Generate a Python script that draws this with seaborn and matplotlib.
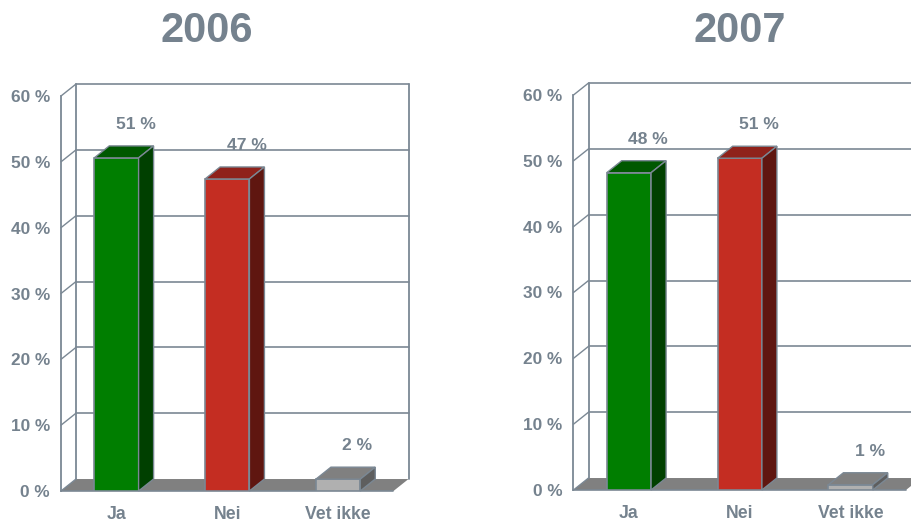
#!/usr/bin/env python
# -*- coding: utf-8 -*-
"""
Ja / Nei / Vet ikke, 2006 and 2007, pseudo 3D bars
"""
import matplotlib
matplotlib.use('Agg')
import matplotlib.pyplot as plt
from matplotlib.patches import Polygon
import seaborn

categories = ['Ja', 'Nei', 'Vet ikke']
years = ['2006', '2007']
# drawn heights
heights_2006 = [50.6, 47.4, 1.8]
heights_2007 = [48.2, 50.4, 0.8]
# printed labels
labels_2006 = ['51 %', '47 %', '2 %']
labels_2007 = ['48 %', '51 %', '1 %']
yticks = [0, 10, 20, 30, 40, 50, 60]
ytick_labels = ['0 %', '10 %', '20 %', '30 %', '40 %', '50 %', '60 %']

TEXT = '#75828e'
LINE = '#7b8894'
FRONT = ['#007e00', '#c42d22', '#b0b0b0']
TOP = ['#005800', '#8f221b', '#808080']
SIDE = ['#004000', '#5f1610', '#5e5e5e']
FLOOR = '#808080'

W, H = 912, 523
DX, DY = 0.1355, 1.82  # depth of the 3D effect in data units


def panel(fig, left_px, bottom_px, title_x, title, heights, labels):
    ax = fig.add_axes([left_px / W, (H - bottom_px) / H, 332.5 / W, 395 / H])
    seaborn.barplot(x=categories, y=heights, hue=categories, palette=FRONT,
                    saturation=1, width=0.4, legend=False, ax=ax, zorder=3,
                    edgecolor=LINE, linewidth=1.2)
    bars = list(ax.patches)
    ax.set_xlim(-0.5, 2.5)
    ax.set_ylim(0, 60)
    ax.set_xlabel('')
    ax.set_ylabel('')
    ax.set_facecolor('none')

    for s in ['top', 'right', 'bottom']:
        ax.spines[s].set_visible(False)
    ax.spines['left'].set_color(LINE)
    ax.spines['left'].set_linewidth(1.3)

    ax.set_yticks(yticks)
    ax.set_yticklabels(ytick_labels)
    ax.set_xticks([-0.5, 0.5, 1.5, 2.5], minor=True)
    ax.set_xticks(range(len(categories)))
    ax.set_xticklabels(categories)
    ax.tick_params(axis='y', length=2, width=1.2, color=LINE, labelcolor=TEXT,
                   labelsize=12.4, pad=6)
    ax.tick_params(axis='x', which='major', length=0, labelcolor=TEXT,
                   labelsize=12.7, pad=11)
    ax.tick_params(axis='x', which='minor', length=4, width=1, color=LINE)
    for t in ax.get_xticklabels() + ax.get_yticklabels():
        t.set_fontweight('bold')

    x0, x1 = -0.5, 2.5
    # floor
    ax.add_patch(Polygon([(x0, 0), (x1, 0), (x1 + DX, DY), (x0 + DX, DY)],
                         fc=FLOOR, ec='none', zorder=1, clip_on=False))
    ax.plot([x0, x1], [0, 0], color=LINE, lw=1.2, zorder=2, clip_on=False)
    # back wall with its grid, and the slanted links to the front axis
    for y in yticks:
        if y > 0:
            ax.plot([x0 + DX, x1 + DX], [y + DY, y + DY], color=LINE, lw=1.2,
                    zorder=2, clip_on=False)
        ax.plot([x0, x0 + DX], [y, y + DY], color=LINE, lw=1.0, zorder=2,
                clip_on=False)
    for x in [x0 + DX, x1 + DX]:
        ax.plot([x, x], [DY, 60 + DY], color=LINE, lw=1.3, zorder=2,
                clip_on=False)

    # top and side face of every bar, label above it
    for i, bar in enumerate(bars):
        a = bar.get_x()
        b = a + bar.get_width()
        h = bar.get_height()
        ax.add_patch(Polygon([(a, h), (b, h), (b + DX, h + DY), (a + DX, h + DY)],
                             fc=TOP[i], ec=LINE, lw=1.0, zorder=3, clip_on=False))
        ax.add_patch(Polygon([(b, 0), (b + DX, DY), (b + DX, h + DY), (b, h)],
                             fc=SIDE[i], ec=LINE, lw=1.0, zorder=3, clip_on=False))
        ax.annotate(labels[i], xy=((a + b) / 2, h), xytext=(14, 24),
                    textcoords='offset points', ha='center', va='center',
                    color=TEXT, fontsize=12.6, fontweight='bold', zorder=5)

    fig.text(title_x / W, (H - 31) / H, title, ha='center', va='center',
             color=TEXT, fontsize=30, fontweight='bold')


seaborn.set_theme(style='white')
plt.rcParams['font.family'] = ['Liberation Sans', 'DejaVu Sans']

fig = plt.figure(figsize=(W / 100, H / 100), dpi=100, facecolor='white')
panel(fig, 61, 491, 207, years[0], heights_2006, labels_2006)
panel(fig, 573.5, 490, 740, years[1], heights_2007, labels_2007)
fig.savefig('out.png', dpi=100)
plt.close()
